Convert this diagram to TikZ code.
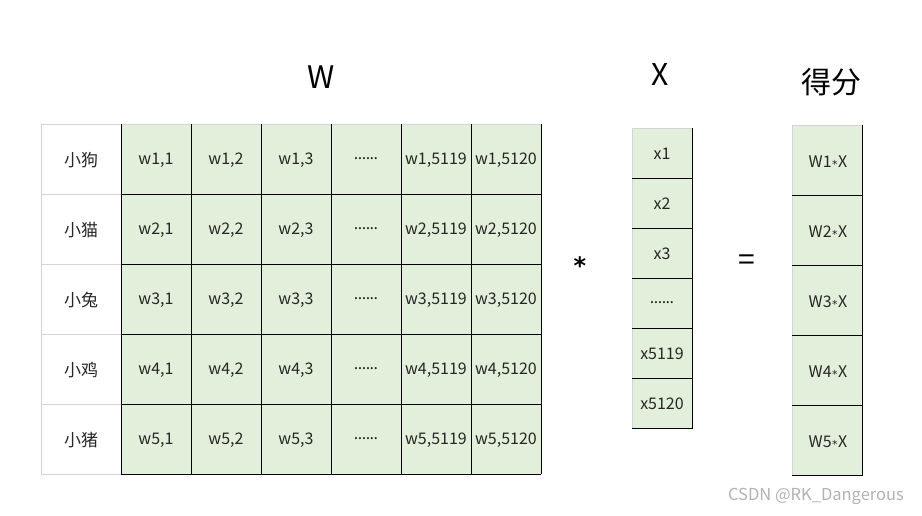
\documentclass[tikz,border=0pt]{standalone}
\usepackage{fontspec}
\setmainfont{Noto Sans CJK SC}
\newfontfamily\dejavu{DejaVu Sans}
\definecolor{cellgreen}{HTML}{E2EFDA}
\definecolor{gridgray}{HTML}{D4D4D4}
\definecolor{txt}{HTML}{262626}
\newcommand{\sixdots}{\raisebox{3.5pt}{.\kern-0.5pt.\kern-0.5pt.\kern-0.5pt.\kern-0.5pt.\kern-0.5pt.}}
\newcommand{\smallstar}{\raisebox{-1pt}{\dejavu\fontsize{11}{11}\selectfont*}}
\begin{document}
\begin{tikzpicture}[x=1pt,y=-1pt,
  cell/.style={font=\fontsize{16}{18}\selectfont, text=txt, inner sep=0pt},
  title/.style={font=\fontsize{31}{34}\selectfont, inner sep=0pt}]
\useasboundingbox (0,0) rectangle (922,515);
% W matrix background
\fill[cellgreen] (121,124) rectangle (541,474);
% label column gray lines
\draw[gridgray, line width=0.8pt] (41,124) -- (121,124);
\draw[gridgray, line width=0.8pt] (41,124) -- (41,474) -- (121,474);
\foreach \y in {194,264,334,404} \draw[gridgray, line width=0.8pt] (41,\y) -- (121,\y);
\draw[gridgray, line width=0.8pt] (121,124) -- (541,124);
% black grid
\foreach \y in {194,264,334,404,474} \draw[black, line width=0.8pt] (121,\y) -- (541,\y);
\foreach \x in {121,191,261,331,401,471,541} \draw[black, line width=0.8pt] (\x,124) -- (\x,474);
% row labels and cells
\foreach \lab [count=\i] in {小狗,小猫,小兔,小鸡,小猪} {
  \node[cell, font=\fontsize{17}{19}\selectfont] (r\i) at (81,{124+70*\i-34}) {\lab};
  \node[cell] (w\i a) at (156,{124+70*\i-34}) {w\i,1};
  \node[cell] (w\i b) at (226,{124+70*\i-34}) {w\i,2};
  \node[cell] (w\i c) at (296,{124+70*\i-34}) {w\i,3};
  \node[cell] (w\i d) at (366,{124+70*\i-34}) {\sixdots};
  \node[cell] (w\i e) at (436,{124+70*\i-34}) {w\i,5119};
  \node[cell] (w\i f) at (506,{124+70*\i-34}) {w\i,5120};
}
% X vector
\fill[cellgreen] (632,128) rectangle (692,428);
\draw[gridgray, line width=0.8pt] (632,428) -- (632,128) -- (692,128);
\draw[black, line width=0.8pt] (692,128) -- (692,428) -- (632,428);
\foreach \y in {178,228,278,328,378} \draw[black, line width=0.8pt] (632,\y) -- (692,\y);
\foreach \lab [count=\i] in {x1,x2,x3,\sixdots,x5119,x5120} {
  \node[cell] (x\i) at (662,{128+50*\i-24}) {\lab};
}
% Score vector
\fill[cellgreen] (792,125) rectangle (862,475);
\draw[gridgray, line width=0.8pt] (792,475) -- (792,125) -- (862,125);
\draw[black, line width=0.8pt] (862,125) -- (862,475) -- (792,475);
\foreach \y in {195,265,335,405} \draw[black, line width=0.8pt] (792,\y) -- (862,\y);
\foreach \i in {1,...,5} {
  \node[cell] (s\i) at (828,{125+70*\i-33}) {W\i\kern0.5pt\smallstar\kern0.5pt X};
}
% titles and operators
\node[title] (tW) at (321,77) {W};
\node[title, font=\fontsize{30}{34}\selectfont] (tX) at (660,75) {X};
\node[title, font=\fontsize{30}{34}\selectfont] (tS) at (831,82) {得分};
\node[font=\dejavu\bfseries\fontsize{24}{26}\selectfont, inner sep=0pt] (op1) at (580,266) {*};
\node[font=\fontsize{30}{32}\selectfont, inner sep=0pt] (op2) at (747,263) {=};
\node[font=\fontsize{16.5}{18}\selectfont, text=gray!60, inner sep=0pt] (wm) at (816,496) {CSDN @RK\_Dangerous};
\end{tikzpicture}
\end{document}
